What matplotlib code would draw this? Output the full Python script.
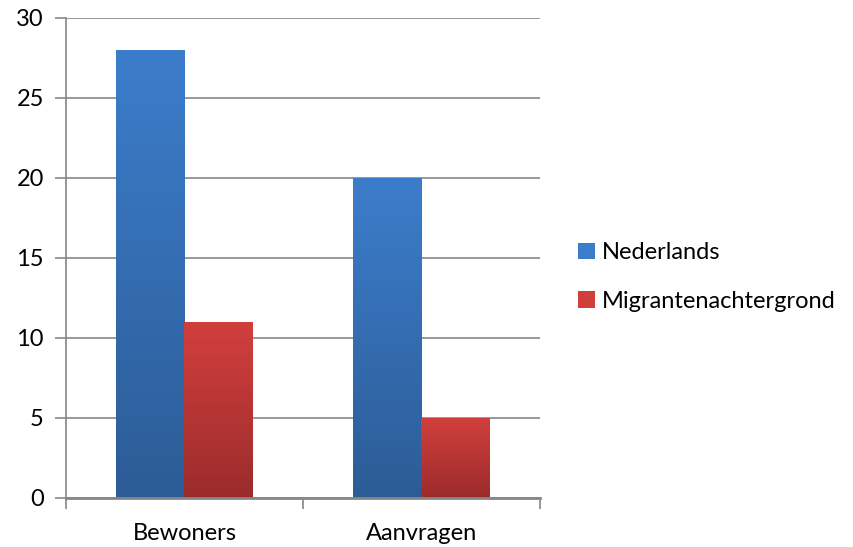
import numpy as np
import matplotlib
matplotlib.use("Agg")
import matplotlib.pyplot as plt
from matplotlib.colors import LinearSegmentedColormap
from matplotlib.patches import Patch

categorieen = ["Bewoners", "Aanvragen"]
nederlands = [28, 20]
migranten = [11, 5]
reeksen = ["Nederlands", "Migrantenachtergrond"]
y_ticks = [0, 5, 10, 15, 20, 25, 30]

# gradients: boven licht, onder donker
kleuren = {
    "Nederlands": ("#3c7dcb", "#2c5c96"),
    "Migrantenachtergrond": ("#d13f3d", "#9b2c2c"),
}

plt.rcParams["font.family"] = ["Lato", "DejaVu Sans"]

fig = plt.figure(figsize=(8.54, 5.47), dpi=100)
ax = fig.add_axes([66 / 854, 1 - 498 / 547, 474 / 854, 480 / 547])

x = np.arange(len(categorieen))
breedte = 0.287
grijs = "#868686"

for waarden, offset, naam in [(nederlands, -breedte / 2, reeksen[0]),
                              (migranten, breedte / 2, reeksen[1])]:
    bars = ax.bar(x + offset, waarden, breedte, color="none", zorder=2)
    top, onder = kleuren[naam]
    cmap = LinearSegmentedColormap.from_list(naam, [onder, top])
    for b in bars:
        x0, w, h = b.get_x(), b.get_width(), b.get_height()
        grad = np.linspace(0, 1, 256).reshape(-1, 1)
        ax.imshow(grad, cmap=cmap, origin="lower", aspect="auto",
                  extent=(x0, x0 + w, 0, h), zorder=2)

ax.set_xlim(-0.5, len(categorieen) - 0.5)
ax.set_ylim(0, 30)
ax.set_yticks(y_ticks)
ax.set_xticks(x)
ax.set_xticklabels(categorieen)
ax.set_xticks(np.arange(len(categorieen) + 1) - 0.5, minor=True)

ax.grid(axis="y", color=grijs, linewidth=1.2, zorder=0)
ax.set_axisbelow(True)
for kant in ["top", "right"]:
    ax.spines[kant].set_visible(False)
ax.spines["left"].set_color(grijs)
ax.spines["bottom"].set_color(grijs)
ax.spines["left"].set_linewidth(1.2)
ax.spines["bottom"].set_linewidth(2.0)

ax.tick_params(axis="y", length=8, color=grijs, width=1.2, labelsize=17, pad=8)
ax.tick_params(axis="x", which="major", length=0, labelsize=17, pad=18)
ax.tick_params(axis="x", which="minor", length=8, color=grijs, width=1.2)

handles = [Patch(facecolor=kleuren[n][0], edgecolor="none") for n in reeksen]
fig.legend(handles, reeksen, loc="center left", bbox_to_anchor=(557 / 854, 1 - 277 / 547),
           frameon=False, fontsize=17, handlelength=0.7, handleheight=0.7,
           handletextpad=0.3, labelspacing=1.15)

fig.savefig("out.png", dpi=100)
